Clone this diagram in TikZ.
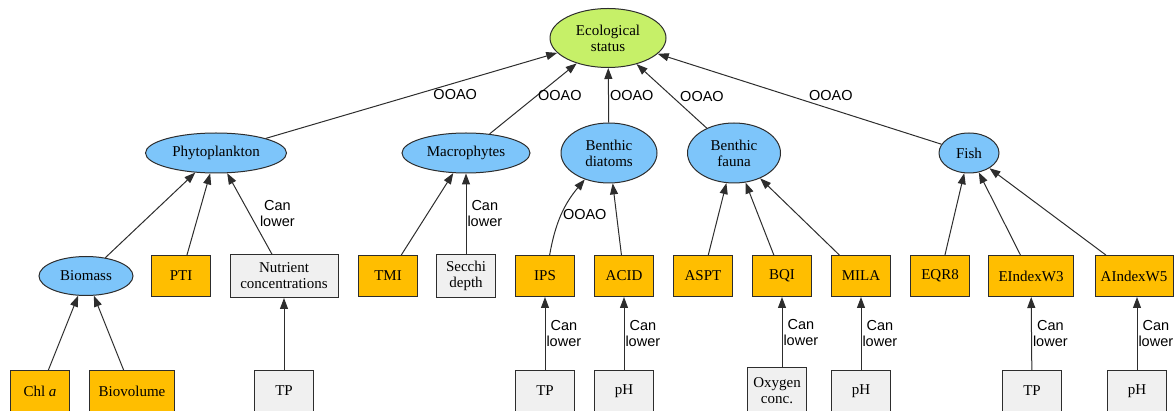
\documentclass[tikz,border=0pt]{standalone}
\usepackage{fontspec}
\setmainfont{Liberation Serif}
\newfontfamily\labelfont{Liberation Sans}
\usetikzlibrary{arrows.meta,shapes.geometric}
\definecolor{statusGreen}{RGB}{198,240,104}
\definecolor{groupBlue}{RGB}{125,197,250}
\definecolor{indexOrange}{RGB}{255,190,0}
\definecolor{pressureGrey}{RGB}{240,240,240}
\definecolor{lineGrey}{RGB}{45,45,45}

\begin{document}
\begin{tikzpicture}[x=1pt, y=-1pt, line width=1pt,
		font=\fontsize{15}{16}\selectfont,
		>={Triangle[length=11pt,width=8pt]},
		lbl/.style={font=\labelfont\fontsize{14.5}{16}\selectfont, align=center, inner sep=1pt}]
		\useasboundingbox (0,0) rectangle (1175,411);
		
		% Status
		\node[ellipse, draw=lineGrey, fill=statusGreen, inner sep=0, align=center,
			minimum width=116, minimum height=59] (status) at (608,38) {Ecological\\status};
		
		% Quality elements
		\begin{scope}[every node/.style={ellipse,draw=lineGrey,fill=groupBlue,inner sep=0,align=center,minimum height=40}]
			\node[minimum width=141] (phyto) at (216,153) {Phytoplankton};
			\node[minimum width=128] (macro) at (466,153) {Macrophytes};
			\node[minimum width=96, minimum height=60] (diatoms) at (609,153) {Benthic\\diatoms};
			\node[minimum width=93, minimum height=60] (fauna) at (734,153) {Benthic\\fauna};
			\node[minimum width=60] (fish) at (969,153) {Fish};
			\node[minimum width=94, minimum height=39] (biomass) at (86,276) {Biomass};
		\end{scope}
		
		% Indices
		\begin{scope}[every node/.style={rectangle,draw=lineGrey,fill=indexOrange,inner sep=0,minimum width=59,minimum height=41}]
			\node (pti) at (181,276) {PTI};
			\node (tmi) at (388,276) {TMI};
			\node (ips) at (545,276) {IPS};
			\node (acid) at (624,276) {ACID};
			\node (aspt) at (703,276) {ASPT};
			\node (bqi) at (782,276) {BQI};
			\node (mila) at (861,276) {MILA};
			\node (eqr) at (940,276) {EQR8};
			\node[minimum width=85] (eindex) at (1031,276) {EIndexW3};
			\node[minimum width=78] (aindex) at (1134,276) {AIndexW5};
			\node (chla) at (40,391) {Chl \textit{a}};
			\node[minimum width=85] (biovol) at (132,391) {Biovolume};
		\end{scope}
		
		% Pressures
		\begin{scope}[every node/.style={rectangle,draw=lineGrey,fill=pressureGrey,inner sep=0,align=center,minimum width=59,minimum height=41}]
			\node[minimum width=108, minimum height=43] (nutr) at (284,276) {Nutrient\\concentrations};
			\node[minimum height=43] (secchi) at (466,276) {Secchi\\depth};
			\node (tp1) at (284,391) {TP};
			\node (tp2) at (545,391) {TP};
			\node (ph1) at (624,391) {pH};
			\node[minimum height=46] (oxygen) at (777,391) {Oxygen\\conc.};
			\node (ph2) at (861,391) {pH};
			\node (tp3) at (1032,391) {TP};
			\node (ph3) at (1137,391) {pH};
		\end{scope}
		
		% Arrows to status
		\begin{scope}[every edge/.style={draw=lineGrey,line width=1pt}]
			\path [->] (phyto) edge node[lbl, pos=0.65, below=5pt] {OOAO} (status);
			\path [->] (macro) edge node[lbl, pos=0.54, right] {OOAO} (status);
			\path [->] (diatoms) edge node[lbl, midway, right] {OOAO} (status);
			\path [->] (fauna) edge node[lbl, midway, right=7pt] {OOAO} (status);
			\path [->] (fish) edge node[lbl, pos=0.39, above=7pt] {OOAO} (status);
		\end{scope}
		
		% Arrows to quality elements
		\begin{scope}[every edge/.style={draw=lineGrey,line width=1pt}]
			\path [->] (biomass) edge (phyto);
			\path [->] (pti) edge (phyto);
			\path [->] (nutr) edge node[lbl, midway, right=9pt] {Can\\lower} (phyto);
			\path [->] (tmi) edge (macro);
			\path [->] (secchi) edge node[lbl, midway, right] {Can\\lower} (macro);
			\path [->] (ips) edge[bend left=15] node[lbl, midway, right] {OOAO} (diatoms);
			\path [->] (acid) edge (diatoms);
			\path [->] (aspt) edge (fauna);
			\path [->] (bqi) edge (fauna);
			\path [->] (mila) edge (fauna);
			\path [->] (eqr) edge (fish);
			\path [->] (eindex) edge (fish);
			\path [->] (aindex) edge (fish);
		\end{scope}
		
		% Arrows to indices
		\begin{scope}[every edge/.style={draw=lineGrey,line width=1pt}]
			\path [->] (chla) edge (biomass);
			\path [->] (biovol) edge (biomass);
			\path [->] (tp1) edge (nutr);
			\path [->] (tp2) edge node[lbl, midway, right] {Can\\lower} (ips);
			\path [->] (ph1) edge node[lbl, midway, right] {Can\\lower} (acid);
			\path [->] (oxygen.north -| bqi.south) edge node[lbl, midway, right] {Can\\lower} (bqi);
			\path [->] (ph2) edge node[lbl, midway, right] {Can\\lower} (mila);
			\path [->] (tp3) edge node[lbl, midway, right] {Can\\lower} (eindex);
			\path [->] (ph3) edge node[lbl, midway, right] {Can\\lower} (ph3 |- aindex.south);
		\end{scope}
	\end{tikzpicture}
\end{document}
